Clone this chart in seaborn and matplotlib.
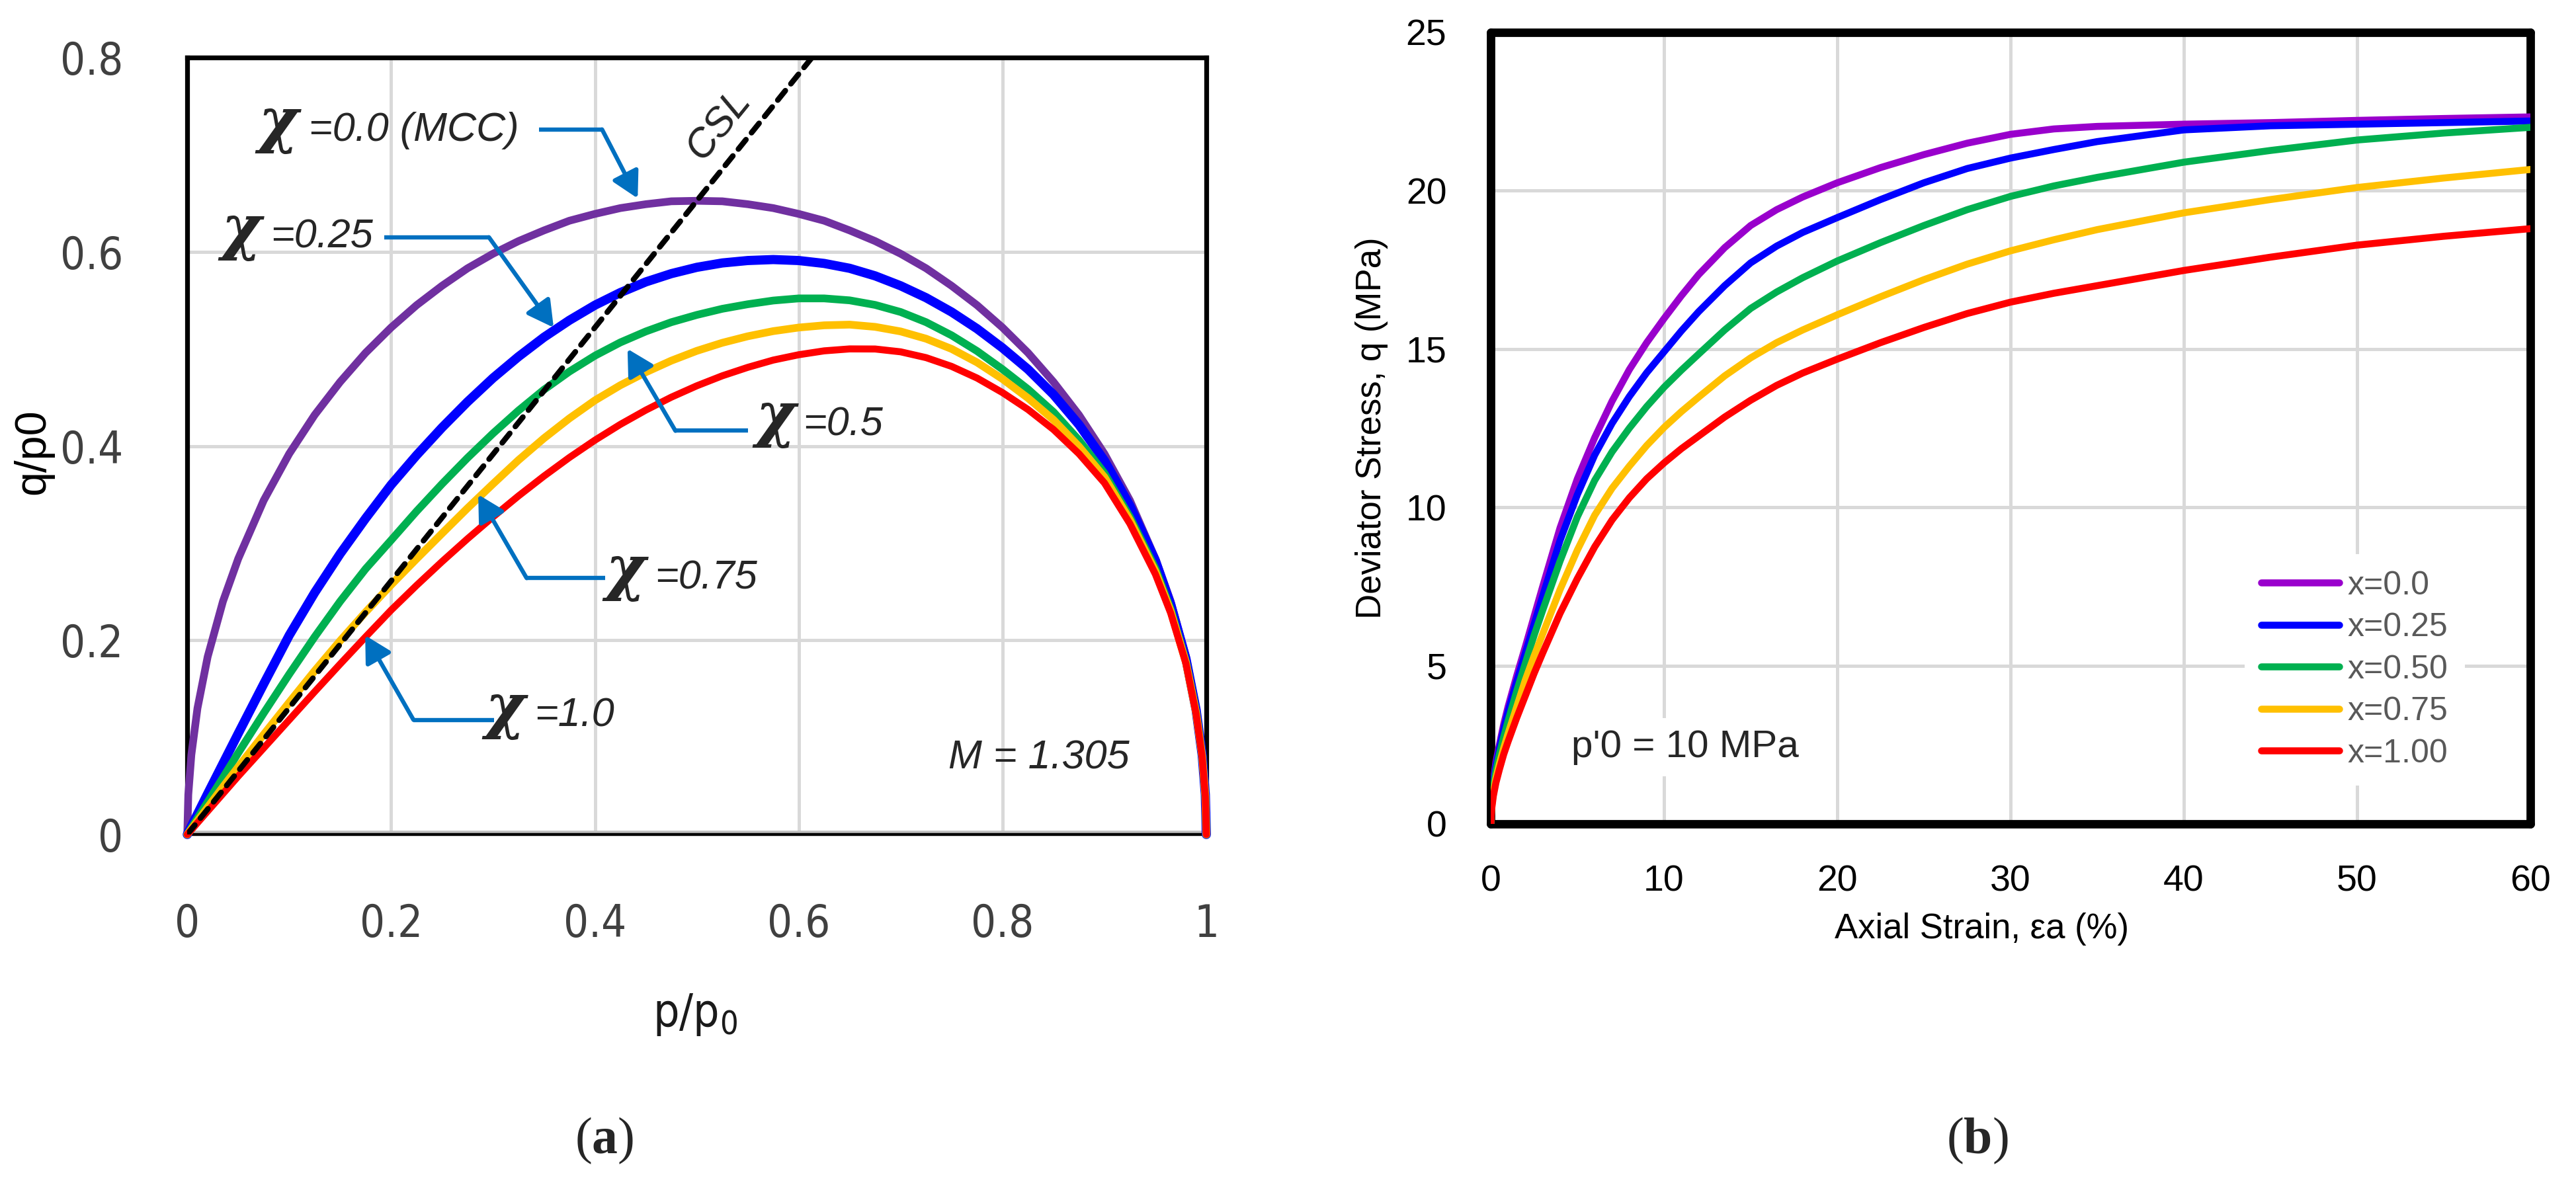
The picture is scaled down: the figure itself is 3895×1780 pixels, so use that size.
import os
import matplotlib
matplotlib.use("Agg")
import matplotlib.pyplot as plt
from matplotlib import font_manager
import pandas as pd
import seaborn as sns

# ---------------------------------------------------------------------
# (a) yield surfaces: q/p0 against p/p0, one list per chi value
p_ratio = [0, 0.001, 0.004, 0.01, 0.02, 0.035, 0.05, 0.075, 0.1, 0.125, 0.15, 0.175, 0.2,
           0.225, 0.25, 0.275, 0.3, 0.325, 0.35, 0.375, 0.4, 0.425, 0.45, 0.475, 0.5, 0.525,
           0.55, 0.575, 0.6, 0.625, 0.65, 0.675, 0.7, 0.725, 0.75, 0.775, 0.8, 0.825, 0.85,
           0.875, 0.9, 0.925, 0.95, 0.965, 0.98, 0.99, 0.996, 0.999, 1.0]
q_chi_000 = [0, 0.041, 0.082, 0.130, 0.183, 0.240, 0.284, 0.344, 0.392, 0.432, 0.466, 0.496, 0.522,
             0.545, 0.565, 0.583, 0.598, 0.611, 0.622, 0.632, 0.639, 0.645, 0.649, 0.652, 0.6525,
             0.652, 0.649, 0.645, 0.639, 0.632, 0.622, 0.611, 0.598, 0.583, 0.565, 0.545, 0.522,
             0.496, 0.466, 0.432, 0.392, 0.344, 0.284, 0.240, 0.183, 0.130, 0.082, 0.041, 0]
q_chi_025 = [0, 0.0021, 0.0084, 0.021, 0.042, 0.073, 0.104, 0.155, 0.205, 0.249, 0.289, 0.3255,
             0.360, 0.3905, 0.419, 0.4455, 0.470, 0.492, 0.512, 0.5295, 0.545, 0.558, 0.569,
             0.5775, 0.584, 0.5885, 0.591, 0.592, 0.591, 0.588, 0.583, 0.5752, 0.565, 0.5527,
             0.538, 0.5208, 0.501, 0.479, 0.453, 0.422, 0.385, 0.3385, 0.282, 0.237, 0.181, 0.128,
             0.081, 0.041, 0]
q_chi_050 = [0, 0.0017, 0.0067, 0.0168, 0.0335, 0.0585, 0.084, 0.125, 0.165, 0.2035, 0.240, 0.2735,
             0.303, 0.3328, 0.361, 0.3878, 0.413, 0.4365, 0.458, 0.4767, 0.493, 0.5067, 0.518,
             0.5275, 0.535, 0.5413, 0.546, 0.5498, 0.552, 0.552, 0.550, 0.5453, 0.538, 0.5275,
             0.514, 0.4978, 0.479, 0.4585, 0.435, 0.406, 0.372, 0.327, 0.274, 0.232, 0.178, 0.126,
             0.080, 0.040, 0]
q_chi_075 = [0, 0.0014, 0.0056, 0.014, 0.028, 0.049, 0.0695, 0.103, 0.136, 0.1685, 0.1995, 0.229,
             0.257, 0.2838, 0.310, 0.336, 0.361, 0.3855, 0.408, 0.4285, 0.447, 0.4626, 0.476,
             0.4879, 0.498, 0.5063, 0.513, 0.5183, 0.522, 0.5243, 0.525, 0.5227, 0.518, 0.5105,
             0.500, 0.4861, 0.469, 0.4494, 0.427, 0.3995, 0.368, 0.324, 0.271, 0.230, 0.177, 0.125,
             0.080, 0.040, 0]
q_chi_100 = [0, 0.0012, 0.0048, 0.012, 0.024, 0.042, 0.060, 0.089, 0.118, 0.147, 0.1755, 0.2035,
             0.231, 0.2565, 0.281, 0.3045, 0.327, 0.3486, 0.369, 0.3882, 0.406, 0.4223, 0.437,
             0.4503, 0.462, 0.4723, 0.481, 0.4885, 0.494, 0.498, 0.500, 0.4999, 0.497, 0.491,
             0.482, 0.470, 0.455, 0.4376, 0.417, 0.392, 0.362, 0.320, 0.268, 0.228, 0.176, 0.124,
             0.079, 0.039, 0]
csl_p = [0, 0.613]
csl_q = [0, 0.8]
chi_texts = ["=0.0 (MCC)", "=0.25", "=0.5", "=0.75", "=1.0"]

# (b) stress-strain: deviator stress (MPa) against axial strain (%)
strain = [0, 0.05, 0.15, 0.3, 0.5, 0.75, 1, 1.5, 2, 2.5, 3, 4, 5, 6, 7, 8, 9, 10, 11, 12, 13.5,
          15, 16.5, 18, 20, 22.5, 25, 27.5, 30, 32.5, 35, 40, 45, 50, 55, 60]
dev_x000 = [0, 0.75, 1.35, 1.95, 2.5, 3.15, 3.7, 4.68, 5.6, 6.55, 7.5, 9.35, 10.9, 12.2, 13.35, 14.35,
            15.2, 15.96, 16.68, 17.35, 18.2, 18.9, 19.4, 19.8, 20.25, 20.73, 21.14, 21.5, 21.78,
            21.95, 22.03, 22.1, 22.15, 22.22, 22.28, 22.33]
dev_x025 = [0, 0.7, 1.28, 1.85, 2.38, 3.0, 3.55, 4.5, 5.4, 6.3, 7.2, 8.95, 10.4, 11.65, 12.65, 13.5,
            14.25, 14.91, 15.57, 16.18, 17.0, 17.72, 18.25, 18.68, 19.15, 19.72, 20.25, 20.7, 21.03,
            21.3, 21.55, 21.92, 22.05, 22.1, 22.15, 22.2]
dev_x050 = [0, 0.62, 1.15, 1.68, 2.2, 2.75, 3.25, 4.2, 5.08, 5.95, 6.75, 8.3, 9.7, 10.85, 11.75, 12.5,
            13.18, 13.79, 14.33, 14.84, 15.6, 16.28, 16.8, 17.25, 17.78, 18.36, 18.9, 19.4, 19.82,
            20.15, 20.42, 20.9, 21.27, 21.6, 21.82, 22.0]
dev_x075 = [0, 0.52, 0.98, 1.45, 1.9, 2.4, 2.85, 3.7, 4.55, 5.3, 6.0, 7.4, 8.65, 9.75, 10.6, 11.3,
            11.95, 12.52, 13.02, 13.48, 14.15, 14.72, 15.2, 15.6, 16.08, 16.65, 17.19, 17.68, 18.1,
            18.45, 18.77, 19.3, 19.72, 20.1, 20.4, 20.67]
dev_x100 = [0, 0.45, 0.88, 1.3, 1.72, 2.2, 2.6, 3.35, 4.05, 4.75, 5.4, 6.65, 7.75, 8.75, 9.6, 10.3,
            10.9, 11.4, 11.85, 12.25, 12.85, 13.38, 13.85, 14.24, 14.68, 15.2, 15.68, 16.12, 16.48,
            16.76, 17.0, 17.48, 17.9, 18.28, 18.56, 18.8]
legend_labels = ["x=0.0", "x=0.25", "x=0.50", "x=0.75", "x=1.00"]

# ---------------------------------------------------------------------
sns.set_style("white")
plt.rcParams["font.family"] = ["Liberation Sans", "DejaVu Sans"]
plt.rcParams["mathtext.fontset"] = "custom"
plt.rcParams["mathtext.rm"] = "Liberation Serif"
plt.rcParams["mathtext.bf"] = "Liberation Serif:bold"

# the left panel uses a narrow face for its numbers; take one if there is any
narrow_file = None
for pref in ("liberationsansnarrow-regular", "dejavusanscondensed.ttf"):
    for f in font_manager.fontManager.ttflist:
        if os.path.basename(f.fname).lower().startswith(pref):
            narrow_file = f.fname
            break
    if narrow_file:
        break
if narrow_file:
    narrow_size = 24
    def narrow_fp(size=narrow_size):
        return font_manager.FontProperties(fname=narrow_file, size=size)
else:
    narrow_size = 22
    def narrow_fp(size=narrow_size):
        return font_manager.FontProperties(family="Liberation Sans", size=size)

fig = plt.figure(figsize=(19.475, 8.9), dpi=200)
ax1 = fig.add_axes([0.0727, 0.2910, 0.3956, 0.6601])
ax2 = fig.add_axes([0.5787, 0.3000, 0.4036, 0.6725])

# ------------------------------- panel (a) ---------------------------
left_curves = [q_chi_000, q_chi_025, q_chi_050, q_chi_075, q_chi_100]
left_colors = ["#7030a0", "#0000ff", "#00b050", "#ffc000", "#ff0000"]
left_widths = [4.2, 5.0, 4.2, 4.2, 3.8]

ax1.set_axisbelow(True)
ax1.grid(True, color="#d9d9d9", lw=1.8)
ax1.axhline(0, color="#bfbfbf", lw=4.5, zorder=2.2)
for q, col, lw in zip(left_curves, left_colors, left_widths):
    sns.lineplot(x=p_ratio, y=q, ax=ax1, color=col, lw=lw, sort=False, estimator=None,
                 clip_on=False, zorder=3, solid_joinstyle="round")
sns.lineplot(x=csl_p, y=csl_q, ax=ax1, color="black", lw=3, sort=False, estimator=None,
             linestyle=(0, (2.2, 1.6)), dash_capstyle="round", zorder=4)

ax1.set_xlim(0, 1)
ax1.set_ylim(0, 0.8)
ax1.set_xticks([0, 0.2, 0.4, 0.6, 0.8, 1.0])
ax1.set_xticklabels(["0", "0.2", "0.4", "0.6", "0.8", "1"])
ax1.set_yticks([0, 0.2, 0.4, 0.6, 0.8])
ax1.set_yticklabels(["0", "0.2", "0.4", "0.6", "0.8"])
ax1.tick_params(axis="x", length=0, pad=37, labelcolor="#404040")
ax1.tick_params(axis="y", length=0, pad=35, labelcolor="#404040")
for lab in ax1.get_xticklabels() + ax1.get_yticklabels():
    lab.set_fontproperties(narrow_fp())
for side in ["top", "left", "right"]:
    ax1.spines[side].set_linewidth(2.6)
    ax1.spines[side].set_color("black")
ax1.spines["bottom"].set_linewidth(1.6)
ax1.spines["bottom"].set_color("black")

ax1.set_xlabel(r"p/p$_\mathregular{0}$", fontproperties=narrow_fp(25), color="#1a1a1a")
ax1.xaxis.set_label_coords(0.498, -0.232)
ax1.xaxis.label.set_va("center")
ax1.set_ylabel("q/p0", fontsize=24, color="black")
ax1.yaxis.set_label_coords(-0.151, 0.493)
ax1.yaxis.label.set_va("center")

# chi labels with elbow arrows:
# (chi centre x, text start x, shared baseline y, connector start, elbow, arrow tip)
label_layout = [
    (0.089, 0.119, 0.714, (0.345, 0.726), (0.407, 0.726), (0.442, 0.655)),
    (0.053, 0.082, 0.604, (0.193, 0.615), (0.296, 0.615), (0.3595, 0.522)),
    (0.577, 0.604, 0.411, (0.550, 0.4157), (0.479, 0.4157), (0.432, 0.500)),
    (0.430, 0.459, 0.253, (0.410, 0.264), (0.333, 0.264), (0.2855, 0.350)),
    (0.3115, 0.341, 0.111, (0.301, 0.118), (0.222, 0.118), (0.1746, 0.205)),
]
arrow_col = "#0070c0"
for txt, (chi_x, txt_x, base_y, start, elbow, tip) in zip(chi_texts, label_layout):
    ax1.text(chi_x, base_y, "χ", fontsize=33, fontweight="bold", fontstyle="italic",
             family="DejaVu Serif", ha="center", va="baseline", zorder=6)
    ax1.text(txt_x, base_y, txt, fontsize=22, fontstyle="italic", ha="left", va="baseline",
             zorder=6)
    ax1.plot([start[0], elbow[0]], [start[1], elbow[1]], color=arrow_col, lw=2.3,
             solid_capstyle="butt", zorder=5)
    ax1.annotate("", xy=tip, xytext=elbow,
                 arrowprops=dict(arrowstyle="-|>,head_length=0.4,head_width=0.22",
                                 color=arrow_col, lw=2.3, mutation_scale=30,
                                 shrinkA=0, shrinkB=0), zorder=5)

ax1.text(0.747, 0.078, "M = 1.305", fontsize=22, fontstyle="italic", ha="left", va="center")
ax1.text(0.522, 0.731, "CSL", fontsize=22, fontstyle="italic", ha="center", va="center",
         rotation=51)

# ------------------------------- panel (b) ---------------------------
right_curves = [dev_x000, dev_x025, dev_x050, dev_x075, dev_x100]
right_colors = ["#9900cc", "#0000ff", "#00b050", "#ffc000", "#ff0000"]
df_b = pd.concat([pd.DataFrame({"strain": strain, "q": vals, "case": lab})
                  for vals, lab in zip(right_curves, legend_labels)], ignore_index=True)

ax2.set_axisbelow(True)
ax2.grid(True, color="#d9d9d9", lw=1.8)
sns.lineplot(data=df_b, x="strain", y="q", hue="case", hue_order=legend_labels,
             palette=dict(zip(legend_labels, right_colors)), lw=3.8, sort=False,
             estimator=None, ax=ax2, zorder=3, solid_joinstyle="round")

ax2.set_xlim(0, 60)
ax2.set_ylim(0, 25)
ax2.set_xticks(range(0, 61, 10))
ax2.set_yticks(range(0, 26, 5))
ax2.tick_params(axis="x", length=0, pad=22, labelsize=20, labelcolor="black")
ax2.tick_params(axis="y", length=0, pad=24, labelsize=20, labelcolor="black")
for side in ["top", "bottom", "left", "right"]:
    ax2.spines[side].set_linewidth(4.6)
    ax2.spines[side].set_color("black")
    ax2.spines[side].set_capstyle("round")

ax2.set_xlabel("Axial Strain, εa (%)", fontsize=19, color="black")
ax2.xaxis.set_label_coords(0.472, -0.133)
ax2.xaxis.label.set_va("center")
ax2.set_ylabel("Deviator Stress, q (MPa)", fontsize=19, color="black")
ax2.yaxis.set_label_coords(-0.1145, 0.500)
ax2.yaxis.label.set_va("center")

leg = ax2.legend(loc="center", bbox_to_anchor=(0.831, 0.195), frameon=True, facecolor="white",
                 edgecolor="none", framealpha=1, fontsize=18, handlelength=2.36,
                 handletextpad=0.25, labelspacing=0.35, borderpad=0.5)
for t in leg.get_texts():
    t.set_color("#595959")
leg.set_zorder(10)

ax2.text(4.66, 2.43, "p'0 = 10 MPa", fontsize=21, ha="left", va="center", zorder=6,
         bbox=dict(facecolor="white", edgecolor="none", pad=6))

# ------------------------------- panel tags --------------------------
fig.text(914 / 3895, 1 - 1725 / 1780, r"($\mathbf{a}$)", family="Liberation Serif",
         fontsize=28, ha="center", va="center")
fig.text(2990 / 3895, 1 - 1725 / 1780, r"($\mathbf{b}$)", family="Liberation Serif",
         fontsize=28, ha="center", va="center")

fig.savefig("out.png", dpi=200)
